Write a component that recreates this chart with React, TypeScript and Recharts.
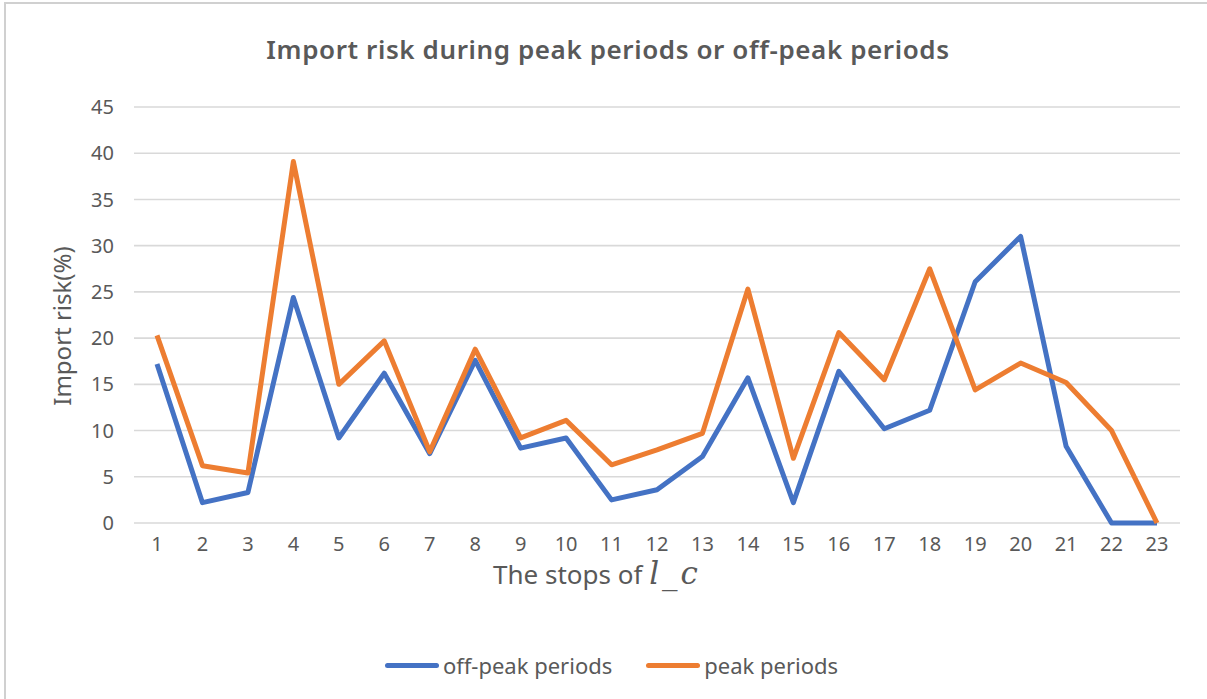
import { LineChart, Line, XAxis, YAxis, CartesianGrid, Legend, Customized } from 'recharts';

const stops = ['1', '2', '3', '4', '5', '6', '7', '8', '9', '10', '11', '12', '13', '14', '15', '16', '17', '18', '19', '20', '21', '22', '23'];

const offPeak = [17.2, 2.2, 3.3, 24.4, 9.2, 16.2, 7.5, 17.6, 8.1, 9.2, 2.5, 3.6, 7.2, 15.7, 2.2, 16.4, 10.2, 12.2, 26.1, 31.0, 8.3, 0, 0];

const peak = [20.3, 6.2, 5.4, 39.1, 15.0, 19.7, 7.7, 18.8, 9.2, 11.1, 6.3, 7.9, 9.7, 25.3, 7.0, 20.6, 15.5, 27.5, 14.4, 17.3, 15.2, 10.0, 0];

const yTicks = [0, 5, 10, 15, 20, 25, 30, 35, 40, 45];

const data = stops.map((s, i) => ({ stop: s, offPeak: offPeak[i], peak: peak[i] }));

const FONT = '"Noto Sans", sans-serif';
const TXT = '#595959';
const BLUE = '#4472C4';
const ORANGE = '#ED7D31';

const legendItems = [
	{ name: 'off-peak periods', color: BLUE },
	{ name: 'peak periods', color: ORANGE },
];

const renderLegend = () => (
	<div style={{ display: 'flex', justifyContent: 'center', gap: 34, paddingLeft: 16, fontFamily: FONT, fontSize: 22, color: TXT }}>
		{legendItems.map((it) => (
			<div key={it.name} style={{ display: 'flex', alignItems: 'center' }}>
				<span style={{ display: 'inline-block', width: 54, height: 5, borderRadius: 3, background: it.color, marginRight: 4 }} />
				<span>{it.name}</span>
			</div>
		))}
	</div>
);

const Title = () => (
	<text x={608} y={59} textAnchor='middle' fontFamily={FONT} fontSize={26} fontWeight={600} letterSpacing={0.6} fill={TXT}>
		Import risk during peak periods or off-peak periods
	</text>
);

const XLabel = () => (
	<text x={597} y={584} textAnchor='middle' fontFamily={FONT} fontSize={26} fill={TXT}>
		The stops of{' '}
		<tspan fontFamily='"DejaVu Serif", serif' fontStyle='italic' fontSize={31} letterSpacing={3}>
			l_c
		</tspan>
	</text>
);

const YLabel = () => (
	<text x={0} y={0} transform='translate(71 326) rotate(-90)' textAnchor='middle' fontFamily={FONT} fontSize={24} fill={TXT}>
		Import risk(%)
	</text>
);

export default function App() {
	return (
		<div style={{ position: 'relative', width: 1207, height: 699, background: '#fff' }}>
			<style>{'body{margin:0}'}</style>
			<div style={{ position: 'absolute', left: 4, top: 2, width: 1203, height: 697, borderTop: '2px solid #d0d0d0', borderLeft: '2px solid #d0d0d0', boxSizing: 'border-box' }} />
			<LineChart width={1207} height={699} data={data} margin={{ top: 107, right: 27, left: 0, bottom: 0 }}>
				<CartesianGrid vertical={false} stroke='#d9d9d9' strokeWidth={1.6} />
				<XAxis
					dataKey='stop'
					height={176}
					padding={{ left: 23, right: 23 }}
					axisLine={false}
					tickLine={false}
					tickSize={0}
					tickMargin={14}
					interval={0}
					tick={{ fill: TXT, fontSize: 20, fontFamily: FONT }}
				/>
				<YAxis
					width={134}
					domain={[0, 45]}
					ticks={yTicks}
					axisLine={false}
					tickLine={false}
					tickSize={0}
					tickMargin={20}
					tick={{ fill: TXT, fontSize: 20, fontFamily: FONT }}
				/>
				<Line type='linear' dataKey='offPeak' name='off-peak periods' stroke={BLUE} strokeWidth={5} strokeLinejoin='round' dot={false} isAnimationActive={false} />
				<Line type='linear' dataKey='peak' name='peak periods' stroke={ORANGE} strokeWidth={5} strokeLinejoin='round' dot={false} isAnimationActive={false} />
				<Legend verticalAlign='middle' align='center' layout='horizontal' content={renderLegend} wrapperStyle={{ top: 650, left: 0, width: 1207 }} />
				<Customized component={Title} />
				<Customized component={XLabel} />
				<Customized component={YLabel} />
			</LineChart>
		</div>
	);
}
